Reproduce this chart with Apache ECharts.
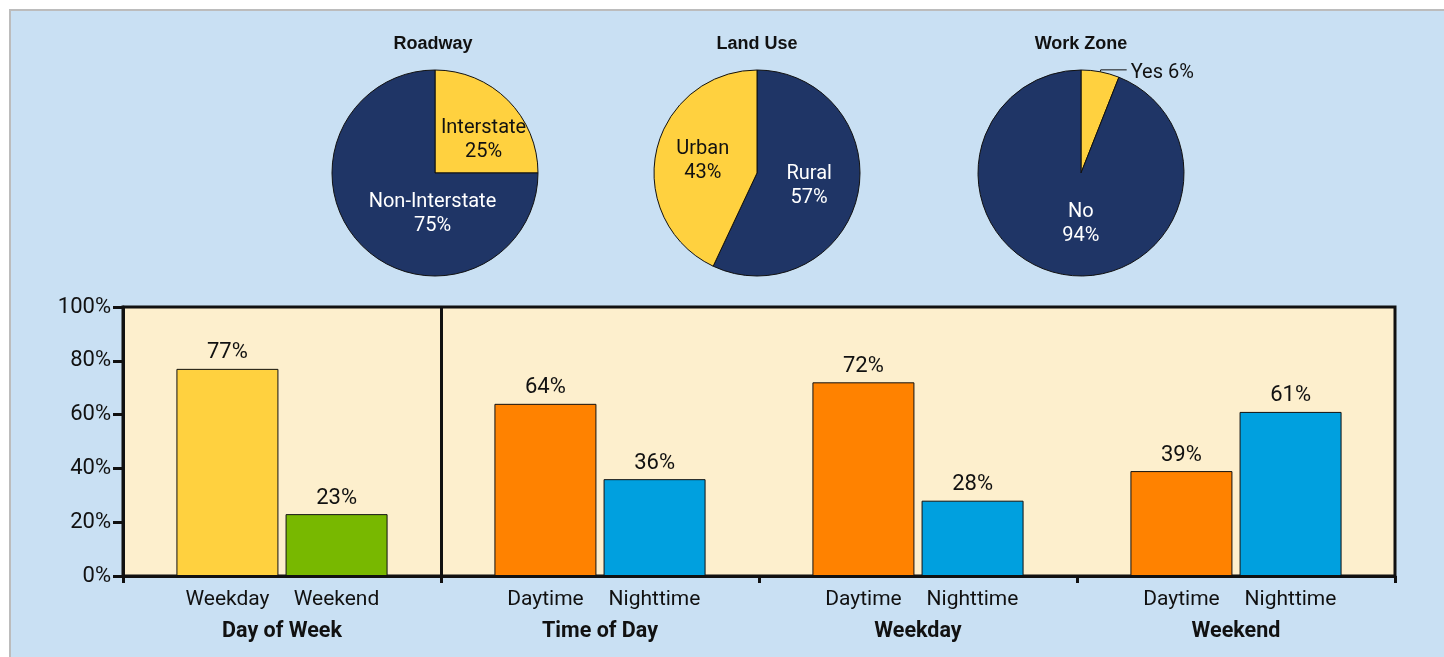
<!DOCTYPE html>
<html><head><meta charset="utf-8">
<script src="https://cdn.jsdelivr.net/npm/echarts@6/dist/echarts.min.js"></script>
<style>html,body{margin:0;padding:0;background:#fff}#c{width:1444px;height:657px}</style>
</head><body><div id="c"></div>
<script>
// ---- data ----
const roadwayNames = ['Interstate', 'Non-Interstate'];
const roadwayValues = [25, 75];
const landUseNames = ['Rural', 'Urban'];
const landUseValues = [57, 43];
const workZoneNames = ['Yes', 'No'];
const workZoneValues = [6, 94];
const groups = ['Day of Week', 'Time of Day', 'Weekday', 'Weekend'];
const leftNames = ['Weekday', 'Daytime', 'Daytime', 'Daytime'];
const rightNames = ['Weekend', 'Nighttime', 'Nighttime', 'Nighttime'];
const leftValues = [77, 64, 72, 39];
const rightValues = [23, 36, 28, 61];
const dividerAt = [1];

// ---- styles ----
const NAVY = '#1f3566', YEL = '#ffd13f', GREEN = '#78b800', ORANGE = '#ff8200', BLUE = '#00a0df';
const TXT = '#111111';
const FONT = 'Roboto, "Liberation Sans", sans-serif';
const leftColors = [YEL, ORANGE, ORANGE, ORANGE];
const rightColors = [GREEN, BLUE, BLUE, BLUE];

function pie(center, names, values, colors, textColors, offsets, extra) {
  return {
    type: 'pie', center: center, radius: 103, startAngle: 90, clockwise: true,
    silent: true, animation: false,
    itemStyle: { borderColor: '#111', borderWidth: 1 },
    label: { position: 'inner', fontFamily: FONT, fontSize: 20, lineHeight: 24, formatter: '{b}\n{c}%' },
    labelLine: { show: false },
    labelLayout: function (p) { const o = offsets[p.dataIndex]; return o ? { dx: o[0], dy: o[1] } : {}; },
    data: names.map((n, i) => Object.assign({
      name: n, value: values[i],
      itemStyle: { color: colors[i] },
      label: { color: textColors[i] }
    }, extra && extra[i] ? extra[i] : {}))
  };
}

const titleFont = 'bold 18px "Liberation Sans", Arial, sans-serif';
const chart = echarts.init(document.getElementById('c'));
chart.setOption({
  animation: false,
  backgroundColor: '#ffffff',
  graphic: [
    { type: 'rect', z: -100, shape: { x: 10, y: 10, width: 1440, height: 660 },
      style: { fill: '#c9e0f3', stroke: '#bcbcbc', lineWidth: 2 } },
    { type: 'text', z: 10, x: 433, y: 35, style: { text: 'Roadway', fill: TXT, font: titleFont, textAlign: 'center' } },
    { type: 'text', z: 10, x: 757, y: 35, style: { text: 'Land Use', fill: TXT, font: titleFont, textAlign: 'center' } },
    { type: 'text', z: 10, x: 1081, y: 35, style: { text: 'Work Zone', fill: TXT, font: titleFont, textAlign: 'center' } }
  ],
  grid: { left: 123, right: 49, top: 307, bottom: 81, show: true, backgroundColor: '#fdefcd', borderColor: '#111', borderWidth: 3, containLabel: false },
  xAxis: [{
    type: 'category', data: groups,
    axisLine: { show: true, lineStyle: { color: '#111', width: 3 } },
    axisTick: { show: true, length: 7, lineStyle: { color: '#111', width: 3 }, interval: 0 },
    splitLine: { show: false },
    axisLabel: {
      interval: 0, margin: 8,
      formatter: function (v, i) { return '{s|' + leftNames[i] + '}{s|' + rightNames[i] + '}\n{g|' + v + '}'; },
      rich: {
        s: { width: 109, align: 'center', fontFamily: FONT, fontSize: 21, lineHeight: 32, color: TXT },
        g: { fontFamily: FONT, fontWeight: 'bold', fontSize: 21.5, lineHeight: 32, color: TXT }
      }
    }
  }, {
    type: 'value', min: 0, max: groups.length, show: false
  }],
  yAxis: {
    type: 'value', min: 0, max: 100, interval: 20,
    axisLine: { show: true, lineStyle: { color: '#111', width: 3 } },
    axisTick: { show: true, length: 10, lineStyle: { color: '#111', width: 3 } },
    splitLine: { show: false },
    axisLabel: { formatter: '{value}%', fontFamily: FONT, fontSize: 22, color: TXT, margin: 12 }
  },
  series: [
    {
      type: 'bar', barWidth: 102, barGap: '7%', silent: true,
      data: leftValues.map((v, i) => ({ value: v, itemStyle: { color: leftColors[i] } })),
      itemStyle: { borderColor: '#111', borderWidth: 1 },
      label: { show: true, position: 'top', distance: 5, formatter: '{c}%', fontFamily: FONT, fontSize: 22, color: TXT }
    },
    {
      type: 'bar', barWidth: 102, silent: true,
      data: rightValues.map((v, i) => ({ value: v, itemStyle: { color: rightColors[i] } })),
      itemStyle: { borderColor: '#111', borderWidth: 1 },
      label: { show: true, position: 'top', distance: 5, formatter: '{c}%', fontFamily: FONT, fontSize: 22, color: TXT }
    },
    {
      type: 'scatter', xAxisIndex: 1, silent: true, data: [],
      markLine: {
        silent: true, symbol: 'none', animation: false,
        label: { show: false },
        lineStyle: { color: '#111', width: 3, type: 'solid' },
        data: dividerAt.map(d => ({ xAxis: d }))
      }
    },
    pie([435, 173], roadwayNames, roadwayValues, [YEL, NAVY], [TXT, '#ffffff'], [[10, 6], [36, 2]]),
    pie([757, 173], landUseNames, landUseValues, [NAVY, YEL], ['#ffffff', TXT], [[-1, 1], [-1, 0]]),
    pie([1081, 173], workZoneNames, workZoneValues, [YEL, NAVY], [TXT, '#ffffff'], [[0, 3], [10, -3]], [
      { label: { position: 'outside', formatter: '{b} {c}%', color: TXT, fontSize: 20, distanceToLabelLine: 4 },
        labelLine: { show: true, length: 2, length2: 26, lineStyle: { color: '#111', width: 1 } } },
      null
    ])
  ]
});
</script></body></html>
